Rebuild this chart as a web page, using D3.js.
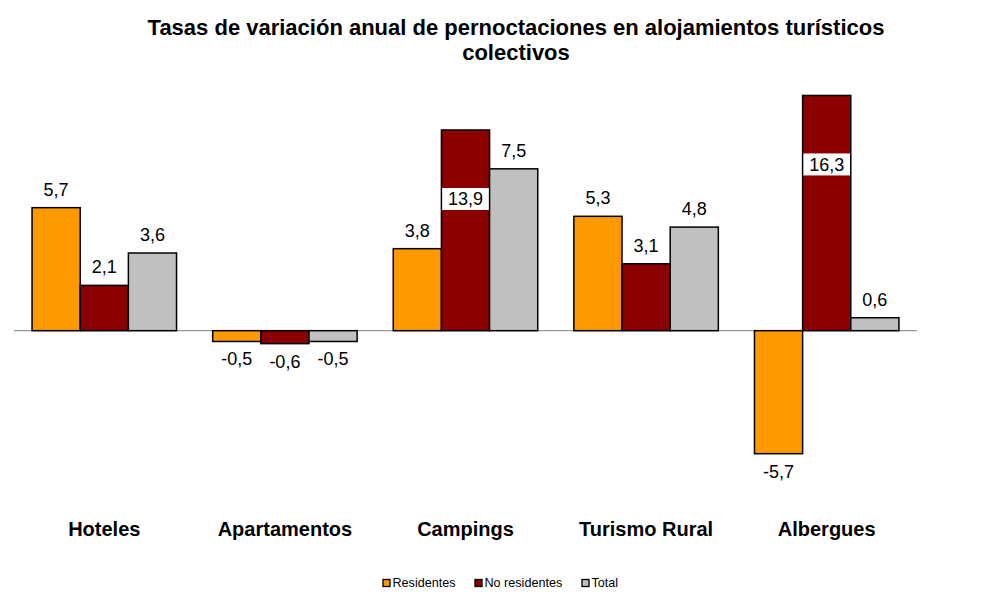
<!DOCTYPE html>
<html>
<head>
<meta charset="utf-8">
<script src="https://cdn.jsdelivr.net/npm/d3@7"></script>
<style>
  html, body { margin: 0; padding: 0; background: #ffffff; }
  svg { display: block; font-family: "Liberation Sans", Arial, Helvetica, sans-serif; }
</style>
</head>
<body>
<svg id="chart" width="989" height="598"></svg>
<script>
// ---- data ----
const categories = ["Hoteles", "Apartamentos", "Campings", "Turismo Rural", "Albergues"];
const seriesNames = ["Residentes", "No residentes", "Total"];
const residentes   = [5.7, -0.5, 3.8, 5.3, -5.7];
const noResidentes = [2.1, -0.6, 13.9, 3.1, 16.3];
const total        = [3.6, -0.5, 7.5, 4.8, 0.6];
// The source chart draws the two largest "No residentes" bars truncated
// (heights); null = bar drawn at its true value.
const noResidentesDrawn = [null, null, 9.3, null, 10.9];
const titleLines = ["Tasas de variación anual de pernoctaciones en alojamientos turísticos", "colectivos"];

const colors = ["#FF9900", "#8B0000", "#C0C0C0"];
const seriesValues = [residentes, noResidentes, total];
const seriesDrawn = [residentes.map(() => null), noResidentesDrawn, total.map(() => null)];

const fmt = v => String(v).replace(".", ",");

const svg = d3.select("#chart");

// ---- scales ----
const x = d3.scaleBand().domain(categories).range([14, 917]).paddingInner(0.2).paddingOuter(0.1);
const xs = d3.scaleBand().domain(seriesNames).range([0, x.bandwidth()]).padding(0);
const y = d3.scaleLinear().domain([-10, 11.5]).range([546.5, 82.5]);

// ---- title ----
svg.append("g").selectAll("text").data(titleLines).join("text")
  .attr("x", 516).attr("y", (d, i) => 35 + i * 25)
  .attr("text-anchor", "middle")
  .attr("font-size", 22).attr("font-weight", "bold").attr("fill", "#000")
  .text(d => d);

// ---- bars ----
const rows = [];
categories.forEach((c, ci) => {
  seriesNames.forEach((s, si) => {
    const v = seriesValues[si][ci];
    const dv = seriesDrawn[si][ci];
    rows.push({ c, s, si, v, drawn: dv == null ? v : dv, truncated: dv != null });
  });
});

const bars = svg.append("g");
bars.selectAll("rect").data(rows).join("rect")
  .attr("x", d => x(d.c) + xs(d.s))
  .attr("width", xs.bandwidth())
  .attr("y", d => y(Math.max(0, d.drawn)))
  .attr("height", d => Math.abs(y(d.drawn) - y(0)))
  .attr("fill", d => colors[d.si])
  .attr("stroke", "#000").attr("stroke-width", 1.5);

// ---- zero line ----
svg.append("line")
  .attr("x1", x.range()[0]).attr("x2", x.range()[1])
  .attr("y1", y(0)).attr("y2", y(0))
  .attr("stroke", "#808080").attr("stroke-width", 1);

// redraw bar outlines over the axis line
bars.raise();

// ---- value labels ----
const labels = svg.append("g");
rows.forEach(d => {
  const cx = x(d.c) + xs(d.s) + xs.bandwidth() / 2;
  if (d.truncated) {
    const top = y(d.drawn);
    const cy = top + 69;
    labels.append("rect")
      .attr("x", x(d.c) + xs(d.s) + 0.75).attr("width", xs.bandwidth() - 1.5)
      .attr("y", cy - 11).attr("height", 22)
      .attr("fill", "#fff");
    labels.append("text")
      .attr("x", cx).attr("y", cy + 6.5)
      .attr("text-anchor", "middle").attr("font-size", 18).attr("fill", "#000")
      .text(fmt(d.v));
  } else if (d.v >= 0) {
    labels.append("text")
      .attr("x", cx).attr("y", y(d.v) - 12)
      .attr("text-anchor", "middle").attr("font-size", 18).attr("fill", "#000")
      .text(fmt(d.v));
  } else {
    labels.append("text")
      .attr("x", cx).attr("y", y(d.v) + 24)
      .attr("text-anchor", "middle").attr("font-size", 18).attr("fill", "#000")
      .text(fmt(d.v));
  }
});

// ---- category labels ----
svg.append("g").selectAll("text").data(categories).join("text")
  .attr("x", d => x(d) + x.bandwidth() / 2)
  .attr("y", 536)
  .attr("text-anchor", "middle")
  .attr("font-size", 20).attr("font-weight", "bold").attr("fill", "#000")
  .text(d => d);

// ---- legend ----
const legendX = [383, 475, 582];
const legend = svg.append("g");
seriesNames.forEach((s, i) => {
  legend.append("rect")
    .attr("x", legendX[i]).attr("y", 579.5).attr("width", 7).attr("height", 7)
    .attr("fill", colors[i]).attr("stroke", "#000").attr("stroke-width", 1.3);
  legend.append("text")
    .attr("x", legendX[i] + 9.5).attr("y", 587)
    .attr("font-size", 12.6).attr("fill", "#000")
    .text(s);
});
</script>
</body>
</html>
